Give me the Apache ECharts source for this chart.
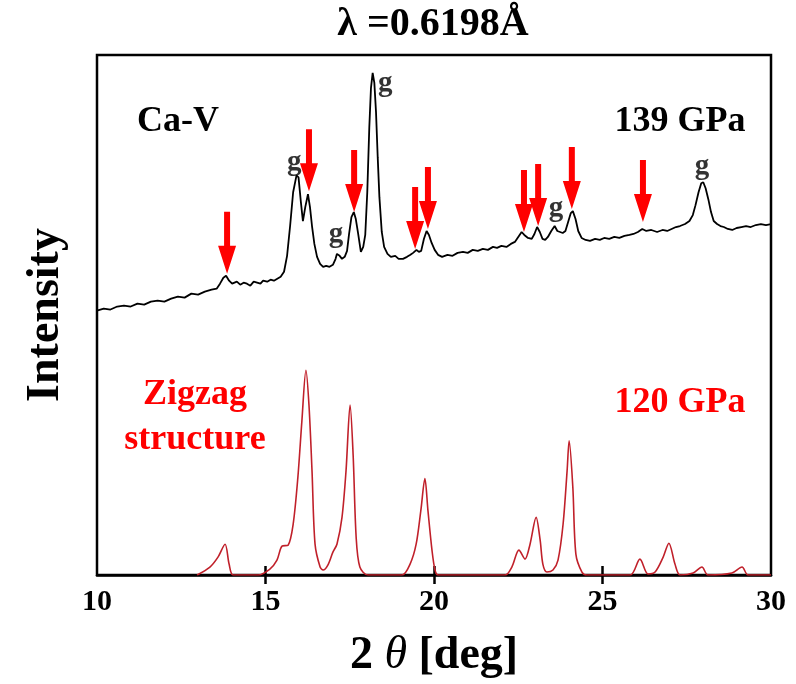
<!DOCTYPE html>
<html>
<head>
<meta charset="utf-8">
<script src="https://cdn.jsdelivr.net/npm/echarts@6/dist/echarts.min.js"></script>
<style>
  body { margin: 0; background: #fff; }
  #chart { width: 796px; height: 684px; }
</style>
</head>
<body>
<div id="chart"></div>
<script>
// measured pattern at 139 GPa: [2theta, intensity (a.u.)]
const expPattern = [
  [10.00, 266], [10.20, 268], [10.40, 267], [10.60, 270], [10.80, 271], [11.00, 270],
  [11.20, 273], [11.40, 272], [11.60, 275], [11.80, 276], [12.00, 275], [12.20, 278],
  [12.40, 280], [12.60, 279], [12.80, 283], [13.00, 282], [13.20, 285], [13.40, 287],
  [13.55, 288], [13.65, 293], [13.75, 299], [13.83, 301], [13.92, 296], [14.01, 293],
  [14.15, 295], [14.25, 292], [14.35, 294], [14.45, 293], [14.55, 291], [14.65, 295],
  [14.75, 294], [14.85, 293], [14.93, 296], [15.05, 295], [15.15, 297], [15.25, 296],
  [15.35, 298], [15.45, 300], [15.55, 305], [15.64, 321], [15.73, 351], [15.82, 385],
  [15.92, 402], [15.98, 400], [16.05, 375], [16.11, 356], [16.18, 370], [16.26, 383],
  [16.32, 370], [16.38, 351], [16.45, 333], [16.53, 320], [16.62, 313], [16.71, 310],
  [16.80, 311], [16.90, 310], [17.00, 312], [17.08, 318], [17.12, 323], [17.20, 321],
  [17.27, 318], [17.35, 320], [17.42, 326], [17.48, 343], [17.55, 360], [17.62, 365],
  [17.68, 358], [17.75, 343], [17.83, 325], [17.90, 330], [17.96, 342], [18.02, 385],
  [18.08, 450], [18.13, 490], [18.18, 505], [18.23, 495], [18.28, 465], [18.33, 420],
  [18.38, 380], [18.45, 345], [18.52, 330], [18.62, 323], [18.72, 320], [18.85, 321],
  [18.95, 318], [19.08, 318], [19.20, 320], [19.30, 322], [19.38, 324], [19.48, 327],
  [19.55, 325], [19.62, 326], [19.70, 338], [19.78, 346], [19.85, 342], [19.93, 334],
  [20.02, 327], [20.12, 322], [20.24, 320], [20.40, 322], [20.55, 321], [20.70, 324],
  [20.86, 325], [21.00, 324], [21.15, 327], [21.30, 326], [21.45, 328], [21.60, 327],
  [21.75, 330], [21.87, 329], [22.00, 331], [22.15, 330], [22.28, 333], [22.40, 335],
  [22.50, 340], [22.60, 345], [22.68, 342], [22.79, 339], [22.90, 338], [22.98, 343],
  [23.06, 350], [23.14, 345], [23.22, 338], [23.30, 337], [23.38, 340], [23.48, 346],
  [23.58, 351], [23.66, 346], [23.74, 345], [23.82, 344], [23.90, 346], [23.98, 355],
  [24.06, 364], [24.12, 366], [24.20, 358], [24.28, 346], [24.38, 339], [24.50, 337],
  [24.63, 336], [24.78, 338], [24.92, 337], [25.05, 339], [25.20, 338], [25.35, 340],
  [25.50, 339], [25.65, 341], [25.80, 342], [25.92, 343], [26.05, 345], [26.18, 348],
  [26.30, 346], [26.45, 347], [26.62, 345], [26.78, 347], [26.92, 346], [27.05, 348],
  [27.18, 350], [27.30, 351], [27.45, 353], [27.58, 356], [27.68, 362], [27.76, 372],
  [27.85, 385], [27.93, 394], [27.99, 395], [28.06, 389], [28.14, 378], [28.22, 365],
  [28.30, 356], [28.40, 353], [28.50, 351], [28.60, 350], [28.72, 348], [28.85, 347],
  [28.98, 349], [29.12, 350], [29.26, 351], [29.40, 350], [29.55, 352], [29.70, 353],
  [29.85, 352], [30.00, 353]
]

// simulated zigzag structure at 120 GPa
const simPattern = [
  [12.97, 0], [13.35, 8], [13.59, 18], [13.80, 31], [13.92, 11], [14.04, 0],
  [14.78, 0], [15.13, 6], [15.34, 15], [15.49, 29], [15.67, 30], [15.82, 51],
  [15.96, 98], [16.08, 155], [16.20, 206], [16.29, 171], [16.38, 105], [16.47, 31],
  [16.62, 8], [16.71, 5], [16.85, 10], [17.00, 23], [17.12, 31], [17.27, 58],
  [17.39, 105], [17.51, 171], [17.60, 121], [17.69, 38], [17.80, 8], [18.04, 0],
  [19.05, 0], [19.29, 11], [19.47, 31], [19.61, 65], [19.73, 97], [19.82, 65],
  [19.94, 25], [20.03, 5], [20.12, 0],
  [22.11, 0], [22.31, 8], [22.52, 25], [22.70, 16], [22.85, 31], [23.03, 58],
  [23.15, 35], [23.23, 11], [23.35, 3], [23.53, 5], [23.68, 15], [23.83, 51],
  [23.95, 105], [24.01, 135], [24.12, 88], [24.21, 21], [24.39, 3], [24.54, 0],
  [25.82, 0], [26.11, 16], [26.35, 1], [26.56, 3], [26.80, 18], [26.97, 32],
  [27.15, 11], [27.30, 0], [27.69, 2], [27.95, 8], [28.13, 0],
  [28.84, 2], [29.14, 8], [29.32, 0], [30.00, 0]
]

// red arrows: [2theta, intensity at arrow tip]
const arrowPeaks = [
  [13.86, 303], [16.29, 386], [17.63, 365], [19.44, 328], [19.82, 348],
  [22.67, 345], [23.09, 351], [24.09, 368], [26.20, 355]
]

// gasket peaks marked "g": [2theta, label height]
const gasketPeaks = [
  [15.85, 415], [18.55, 494], [17.09, 342], [23.62, 369], [27.95, 411]
]

const xTicks = [10, 15, 20, 25, 30]
const innerTicks = [15, 20, 25]

const serif = '"Liberation Serif", "Times New Roman", serif'
const arrowPath = 'path://M6,0 L12,0 L12,34 L18,34 L9,62 L0,34 L6,34 Z'

const myChart = echarts.init(document.getElementById('chart'))
myChart.setOption({
  animation: false,
  grid: {
    left: 97, right: 25, top: 55, bottom: 106,
    show: true, borderColor: '#000', borderWidth: 2.5
  },
  graphic: [
    { type: 'text', x: 433, y: 25, style: { text: 'λ =0.6198Å', font: 'bold 40px ' + serif, fill: '#000', align: 'center', verticalAlign: 'middle' } },
    { type: 'text', x: 137, y: 122, style: { text: 'Ca-V', font: 'bold 36px ' + serif, fill: '#000', align: 'left', verticalAlign: 'middle' } },
    { type: 'text', x: 680, y: 122, style: { text: '139 GPa', font: 'bold 36px ' + serif, fill: '#000', align: 'center', verticalAlign: 'middle' } },
    { type: 'text', x: 195, y: 395, style: { text: 'Zigzag', font: 'bold 36px ' + serif, fill: '#ff0000', align: 'center', verticalAlign: 'middle' } },
    { type: 'text', x: 195, y: 440, style: { text: 'structure', font: 'bold 36px ' + serif, fill: '#ff0000', align: 'center', verticalAlign: 'middle' } },
    { type: 'text', x: 680, y: 403, style: { text: '120 GPa', font: 'bold 36px ' + serif, fill: '#ff0000', align: 'center', verticalAlign: 'middle' } }
  ],
  xAxis: [
    {
      type: 'value', min: xTicks[0], max: xTicks[xTicks.length - 1], interval: 5,
      name: '{a|2 }{i|θ}{a| [deg]}',
      nameLocation: 'middle', nameGap: 58,
      nameTextStyle: {
        rich: {
          a: { fontFamily: serif, fontWeight: 'bold', fontSize: 46, color: '#000' },
          i: { fontFamily: serif, fontStyle: 'italic', fontSize: 46, color: '#000' }
        }
      },
      axisLine: { show: true, lineStyle: { color: '#000', width: 2.5 } },
      axisTick: { show: true, length: 9, customValues: innerTicks, lineStyle: { color: '#000', width: 2.5 } },
      axisLabel: { fontFamily: serif, fontWeight: 'bold', fontSize: 30, color: '#000', margin: 12 },
      splitLine: { show: false }
    },
    {
      type: 'value', min: xTicks[0], max: xTicks[xTicks.length - 1], interval: 5,
      position: 'bottom',
      axisLine: { show: false },
      axisTick: { show: true, inside: true, length: 9, customValues: innerTicks, lineStyle: { color: '#000', width: 2.5 } },
      axisLabel: { show: false },
      splitLine: { show: false }
    }
  ],
  yAxis: {
    type: 'value', min: 0, max: 523,
    name: 'Intensity', nameLocation: 'middle', nameGap: 28,
    nameTextStyle: { fontFamily: serif, fontWeight: 'bold', fontSize: 46, color: '#000' },
    axisLine: { show: false },
    axisTick: { show: false },
    axisLabel: { show: false },
    splitLine: { show: false }
  },
  series: [
    {
      name: '139 GPa', type: 'line', data: expPattern,
      showSymbol: false, lineStyle: { color: '#000', width: 1.8 }
    },
    {
      name: '120 GPa', type: 'line', data: simPattern,
      showSymbol: false, smooth: 0.3, lineStyle: { color: '#c0202a', width: 1.6 }
    },
    {
      name: 'arrows', type: 'scatter', data: arrowPeaks,
      symbol: arrowPath, symbolSize: [18, 62], symbolOffset: [0, '-50%'],
      itemStyle: { color: '#ff0000', opacity: 1 }, z: 5
    },
    {
      name: 'g', type: 'scatter', data: gasketPeaks,
      symbolSize: 1, itemStyle: { color: 'rgba(0,0,0,0)' },
      label: { show: true, position: 'inside', formatter: 'g', fontFamily: serif, fontWeight: 'bold', fontSize: 29, color: '#000' }
    }
  ]
})
</script>
</body>
</html>
